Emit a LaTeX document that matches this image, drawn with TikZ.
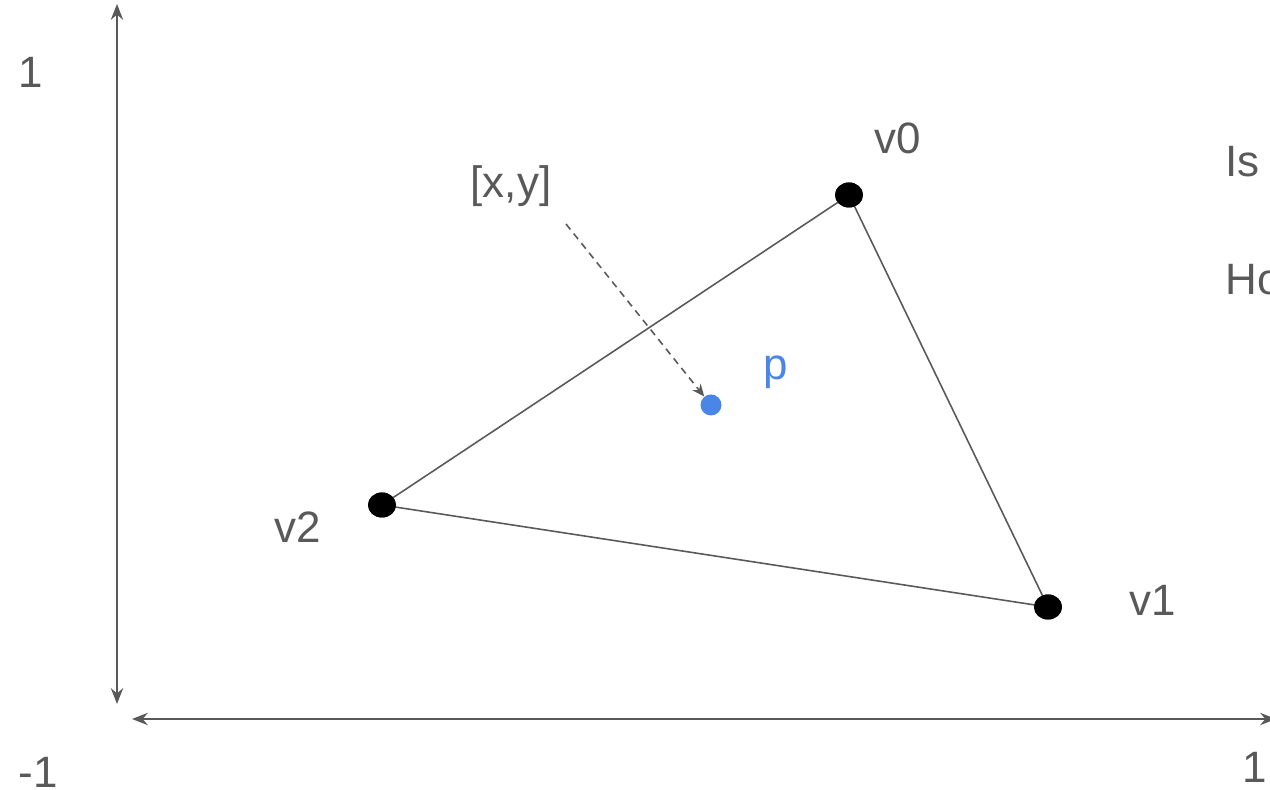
\documentclass[tikz,border=0pt]{standalone}
\usepackage{fontspec}
\setmainfont{Liberation Sans}
\usetikzlibrary{arrows.meta,shapes.geometric}
\definecolor{axisgray}{HTML}{595959}
\definecolor{pblue}{HTML}{4A86E8}
\tikzset{
  axis/.style={draw=axisgray, line width=1.1pt, {Stealth[length=9pt,width=7pt]}-{Stealth[length=9pt,width=7pt]}},
  edge/.style={draw=axisgray, line width=0.9pt},
  vdot/.style={ellipse, fill=black, draw=none, minimum width=0.56cm, minimum height=0.5cm, inner sep=0pt},
  pdot/.style={circle, fill=pblue, draw=none, minimum size=0.42cm, inner sep=0pt},
  lbl/.style={text=axisgray, font=\fontsize{25}{30}\selectfont, inner sep=0pt},
  plbl/.style={text=pblue, font=\fontsize{25}{30}\selectfont, inner sep=0pt},
  ptr/.style={draw=axisgray, line width=0.9pt, dash pattern=on 4pt off 3pt, -{Stealth[length=7pt,width=6pt]}}
}
\begin{document}
\begin{tikzpicture}
\useasboundingbox (0,0) rectangle (25.4,15.8);
\clip (0,0) rectangle (25.4,15.8);
% axes
\coordinate (ytop) at (2.34,15.72);
\coordinate (ybot) at (2.34,1.72);
\coordinate (xleft) at (2.64,1.42);
\coordinate (xright) at (25.52,1.42);
\draw[axis] (ybot) -- (ytop);
\draw[axis] (xleft) -- (xright);
\node[lbl] (ylabel) at (0.62,14.36) {1};
\node[lbl] (xminlabel) at (0.76,0.36) {-1};
\node[lbl] (xmaxlabel) at (25.1,0.46) {1};
% triangle
\node[vdot] (v0) at (16.98,11.9) {};
\node[vdot] (v1) at (20.96,3.66) {};
\node[vdot] (v2) at (7.64,5.7) {};
\draw[edge] (v0.center) -- (v1.center) -- (v2.center) -- cycle;
\node[vdot] at (v0) {};
\node[vdot] at (v1) {};
\node[vdot] at (v2) {};
\node[lbl] (v0l) at (17.96,13.04) {v0};
\node[lbl] (v1l) at (23.06,3.8) {v1};
\node[lbl] (v2l) at (5.96,5.26) {v2};
% point p
\node[pdot] (p) at (14.22,7.7) {};
\node[plbl] (pl) at (15.52,8.36) {p};
\node[lbl] (xy) at (10.22,12.08) {[x,y]};
\coordinate (xystart) at (11.32,11.32);
\draw[ptr] (xystart) -- (p);
% cut-off text
\node[lbl, anchor=west] (is) at (24.5,12.56) {Is};
\node[lbl, anchor=west] (ho) at (24.5,10.2) {Ho};
\end{tikzpicture}
\end{document}
